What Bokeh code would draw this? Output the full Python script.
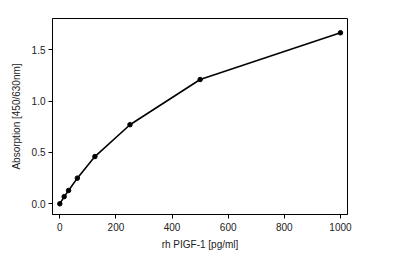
from bokeh.plotting import figure
from bokeh.models import FixedTicker, NumeralTickFormatter, Range1d
from bokeh.embed import file_html
from bokeh.resources import INLINE

conc = [0, 15.6, 31.25, 62.5, 125, 250, 500, 1000]
absorb = [0.0, 0.07, 0.13, 0.25, 0.46, 0.77, 1.21, 1.665]
x_ticks = [0, 200, 400, 600, 800, 1000]
y_ticks = [0.0, 0.5, 1.0, 1.5]

p = figure(width=400, height=263, output_backend="svg", toolbar_location=None,
           x_range=Range1d(-26, 1025), y_range=Range1d(-0.104, 1.804),
           min_border_left=52, min_border_right=53, min_border_top=18, min_border_bottom=49)
p.xgrid.visible = False
p.ygrid.visible = False
p.outline_line_color = "black"
p.outline_line_width = 1
p.outline_line_alpha = 1
p.background_fill_color = "white"
p.border_fill_color = "white"

p.line(conc, absorb, line_color="black", line_width=1.6)
p.scatter(conc, absorb, size=4.5, color="black")

font = "Liberation Sans"
for ax in (p.xaxis[0], p.yaxis[0]):
    ax.axis_line_color = "black"
    ax.major_tick_line_color = "black"
    ax.major_tick_out = 4
    ax.major_tick_in = 0
    ax.minor_tick_line_color = None
    ax.major_label_text_font = font
    ax.major_label_text_font_size = "10px"
    ax.major_label_text_color = "#222222"
    ax.axis_label_text_font = font
    ax.axis_label_text_font_size = "10px"
    ax.axis_label_text_font_style = "normal"
    ax.axis_label_text_color = "#222222"

p.xaxis.ticker = FixedTicker(ticks=x_ticks)
p.yaxis.ticker = FixedTicker(ticks=y_ticks)
p.yaxis.formatter = NumeralTickFormatter(format="0.0")
p.xaxis.axis_label = "rh PIGF-1 [pg/ml]"
p.yaxis.axis_label = "Absorption [450/630nm]"
p.xaxis.major_label_standoff = 4
p.yaxis.major_label_standoff = 3
p.xaxis.axis_label_standoff = 5
p.yaxis.axis_label_standoff = 7

open("out.html", "w").write(file_html(p, INLINE))
